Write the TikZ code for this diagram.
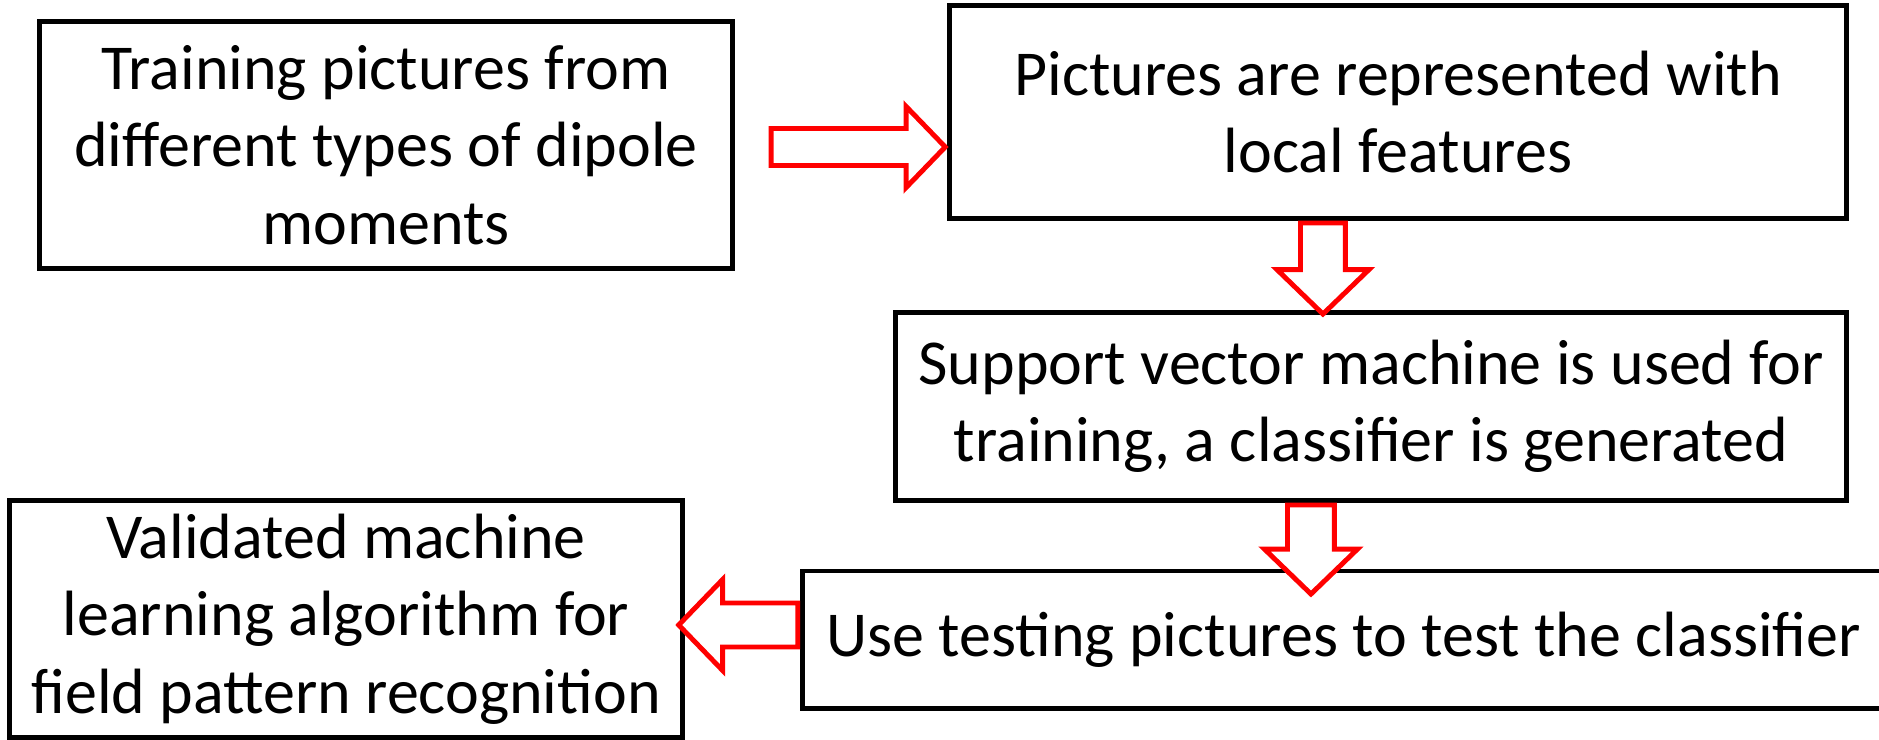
\documentclass[tikz,border=0pt]{standalone}
\usepackage{fontspec}
\setmainfont{Carlito}
\usepackage{xcolor,tikz}
\usetikzlibrary{calc,positioning,shapes.arrows}
\tikzset{>=stealth}
\tikzset{procbox/.style={draw=black, line width=1.4pt, inner sep=0pt, align=center,
    font=\fontsize{18.2}{22}\selectfont},
  bigarrow/.style={single arrow, draw=red, line width=1.4pt, fill=white,
    single arrow tip angle=92, anchor=tail}}

\begin{document}
\begin{tikzpicture}[x=0.01cm, y=-0.01cm]
\useasboundingbox (0,0) rectangle (1879,740);
%%%% boxes
\node[procbox, minimum width=6.92cm, minimum height=2.46cm] (train) at (386,145)
  {Training pictures from\\ different types of dipole\\ moments};
\node[procbox, minimum width=8.96cm, minimum height=2.12cm] (feat) at (1398,112)
  {Pictures are represented with\\ local features};
\node[procbox, minimum width=9.50cm, minimum height=1.87cm] (svm) at (1371,406.5)
  {Support vector machine is used for\\ training, a classifier is generated};
\node[procbox, minimum width=10.81cm, minimum height=1.37cm] (test) at (1343.5,639.5)
  {Use testing pictures to test the classifier};
\node[procbox, minimum width=6.72cm, minimum height=2.36cm] (valid) at (346,619)
  {Validated machine\\ learning algorithm for\\ field pattern recognition};
%%%% arrows
\node[bigarrow, inner sep=0.16cm, single arrow head extend=0.22cm, minimum height=1.74cm]
  (a1) at ([xshift=0.34cm, yshift=-0.02cm]train.east) {};
\node[bigarrow, inner sep=0.20cm, single arrow head extend=0.235cm, minimum height=0.91cm,
  shape border rotate=270] (a2) at ([xshift=-0.75cm]feat.south) {};
\node[bigarrow, inner sep=0.21cm, single arrow head extend=0.23cm, minimum height=0.89cm,
  shape border rotate=270] (a3) at ([xshift=-0.6cm]svm.south) {};
\node[bigarrow, inner sep=0.195cm, single arrow head extend=0.235cm, minimum height=1.19cm,
  shape border rotate=180] (a4) at ([yshift=0.145cm]test.west) {};
\end{tikzpicture}
\end{document}
